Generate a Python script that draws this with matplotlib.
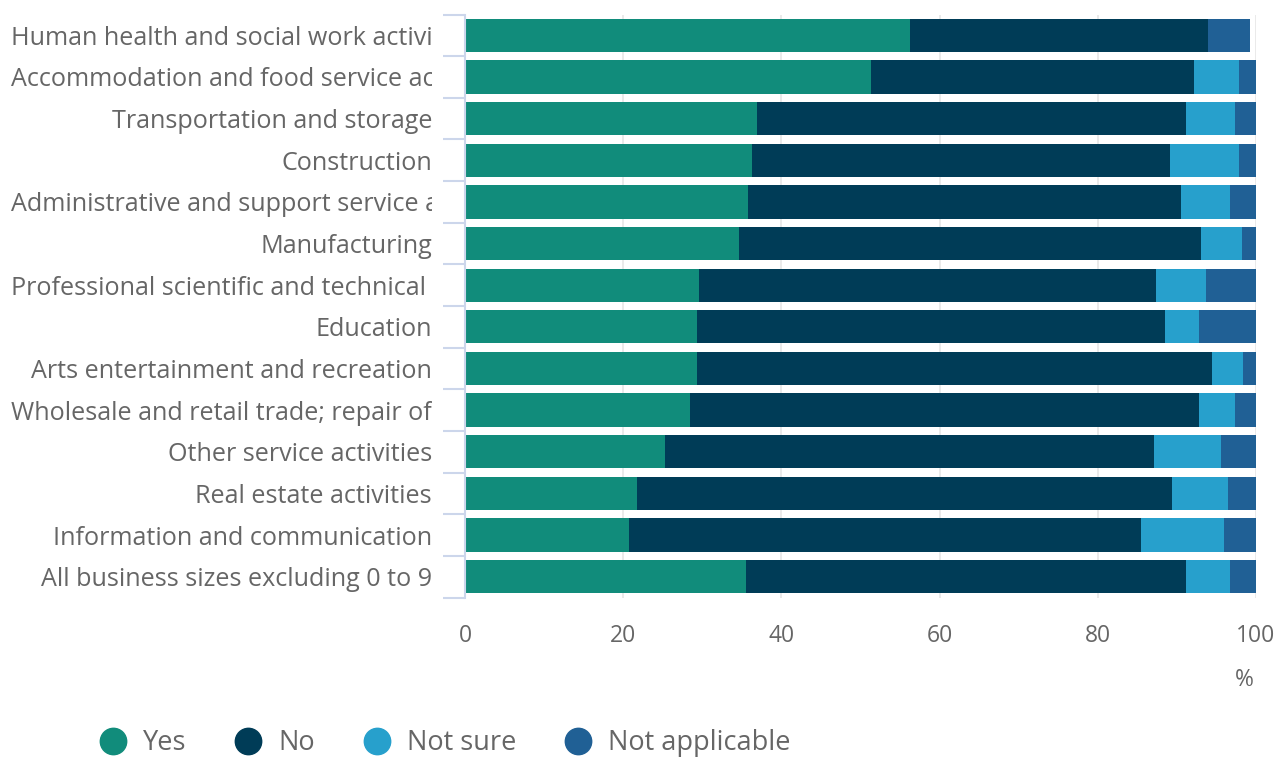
#Stacked horizontal bar chart of survey answers by industry
import matplotlib.pyplot as plt
import matplotlib.transforms as mtransforms
from matplotlib.lines import Line2D

#data (percent of businesses)
industries = ['Human health and social work activities',
              'Accommodation and food service activities',
              'Transportation and storage',
              'Construction',
              'Administrative and support service activities',
              'Manufacturing',
              'Professional scientific and technical activities',
              'Education',
              'Arts entertainment and recreation',
              'Wholesale and retail trade; repair of motor vehicles and motorcycles',
              'Other service activities',
              'Real estate activities',
              'Information and communication',
              'All business sizes excluding 0 to 9']
yes = [56.2, 51.3, 36.9, 36.3, 35.8, 34.7, 29.6, 29.3, 29.3, 28.4, 25.3, 21.8, 20.7, 35.5]
no = [37.7, 40.9, 54.2, 52.8, 54.7, 58.3, 57.7, 59.2, 65.2, 64.4, 61.8, 67.6, 64.7, 55.6]
not_sure = [0.0, 5.7, 6.2, 8.8, 6.2, 5.2, 6.4, 4.3, 3.9, 4.5, 8.5, 7.1, 10.5, 5.6]
not_applicable = [5.4, 2.1, 2.7, 2.1, 3.3, 1.8, 6.3, 7.2, 1.6, 2.7, 4.4, 3.5, 4.1, 3.3]
series_names = ['Yes', 'No', 'Not sure', 'Not applicable']
x_ticks = [0, 20, 40, 60, 80, 100]

colours = ['#118c7b', '#003c57', '#27a0cc', '#206095']
text_grey = '#666666'
axis_blue = '#ccd6eb'

plt.rcParams['font.family'] = ['Open Sans', 'DejaVu Sans']

W, H = 1284, 757
fig = plt.figure(figsize=(W / 100, H / 100), dpi=100)
ax = fig.add_axes([465 / W, 1 - 597.5 / H, (1256 - 465) / W, (597.5 - 14.5) / H])

#stack the four series one after another
pos = list(range(len(industries)))
left = [0.0] * len(industries)
for vals, name, col in zip([yes, no, not_sure, not_applicable], series_names, colours):
    ax.barh(pos, vals, left=left, height=0.8, color=col, label=name, zorder=2)
    left = [a + b for a, b in zip(left, vals)]

ax.set_xlim(0, 100)
ax.set_ylim(len(industries) - 0.5, -0.5)

#vertical gridlines and x tick labels
ax.set_xticks(x_ticks)
ax.set_xticklabels([str(t) for t in x_ticks])
ax.grid(axis='x', color='#e6e6e6', linewidth=1.2, zorder=0)
ax.tick_params(axis='x', length=0, pad=19, labelsize=16.5, labelcolor=text_grey)

#category axis: tick marks between the bars, no labels on the ticks
ax.set_yticks([p - 0.5 for p in pos] + [len(industries) - 0.5])
ax.set_yticklabels([])
ax.tick_params(axis='y', length=16, width=1.5, color=axis_blue)
for side in ['top', 'right', 'bottom']:
    ax.spines[side].set_visible(False)
ax.spines['left'].set_color(axis_blue)
ax.spines['left'].set_linewidth(1.5)

#category labels, right aligned, long ones cut off like the original
renderer = fig.canvas.get_renderer()
label_tr = mtransforms.blended_transform_factory(fig.transFigure, ax.transData)
label_tr = mtransforms.offset_copy(label_tr, fig=fig, y=-3, units='dots')
clip = mtransforms.TransformedBbox(mtransforms.Bbox([[0, 0], [432 / W, 1]]), fig.transFigure)
for p, name in zip(pos, industries):
    t = fig.text(432 / W, p, name, transform=label_tr, ha='right', va='center',
                 fontsize=18.1, color=text_grey)
    if t.get_window_extent(renderer).width > 421:
        t.set_x(11 / W)
        t.set_ha('left')
        t.set_clip_box(clip)
        t.set_clip_on(True)

fig.text(1244 / W, 1 - 680 / H, '%', ha='center', va='center', fontsize=16.5, color=text_grey)

#legend with round markers along the bottom
handles = [Line2D([], [], linestyle='none', marker='o', markersize=19, color=c) for c in colours]
fig.legend(handles, series_names, loc='center left', bbox_to_anchor=(100 / W, 1 - 743 / H),
           ncol=4, frameon=False, fontsize=19.5, labelcolor=text_grey, borderpad=0,
           borderaxespad=0, handlelength=0.96, handletextpad=0.63, columnspacing=1.8)

fig.savefig('out.png', dpi=100)
